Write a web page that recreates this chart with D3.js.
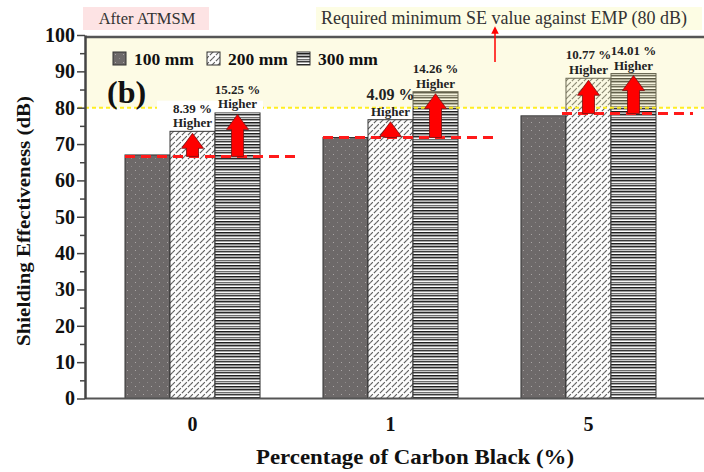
<!DOCTYPE html>
<html>
<head>
<meta charset="utf-8">
<script src="https://cdn.jsdelivr.net/npm/d3@7"></script>
<style>
  body { margin: 0; background: #fff; }
  svg text { font-family: "Liberation Serif", "Times New Roman", serif; }
</style>
</head>
<body>
<div id="chart"></div>
<script>
// values
const categories = ["0", "1", "5"];
const series = ["100 mm", "200 mm", "300 mm"];
const se100 = [67.0, 71.8, 77.8];
const se200 = [73.5, 76.7, 88.1];
const se300 = [78.7, 84.4, 89.4];
const baseline = [66.6, 71.8, 78.4];
const gain200 = ["8.39 %", "4.09 %", "10.77 %"];
const gain300 = ["15.25 %", "14.26 %", "14.01 %"];
const yTicks = d3.range(0, 101, 10);
const yMinor = d3.range(5, 100, 10);
const requiredSE = 80;

const W = 704, H = 472;
const pLeft = 85, pRight = 704, pTop = 37, pBottom = 398.5;

const svg = d3.select("#chart").append("svg")
    .attr("width", W)
    .attr("height", H);

// patterns for the three bar fills
const defs = svg.append("defs");
const p1 = defs.append("pattern").attr("id", "p100")
    .attr("patternUnits", "userSpaceOnUse").attr("width", 8).attr("height", 8);
p1.append("rect").attr("width", 8).attr("height", 8).attr("fill", "#6d6969");
p1.append("rect").attr("x", 2).attr("y", 2).attr("width", 1).attr("height", 1).attr("fill", "#aaa6a6");
p1.append("rect").attr("x", 6).attr("y", 6).attr("width", 1).attr("height", 1).attr("fill", "#8f8b8b");

const p2 = defs.append("pattern").attr("id", "p200")
    .attr("patternUnits", "userSpaceOnUse").attr("width", 6).attr("height", 6);
p2.append("rect").attr("width", 6).attr("height", 6).attr("fill", "#fdfdfd");
p2.append("path").attr("d", "M-1,7 L7,-1 M-1,1 L1,-1 M5,7 L7,5")
    .attr("stroke", "#5a5a5a").attr("stroke-width", 1.1).attr("stroke-dasharray", "4,1.5");

const p3 = defs.append("pattern").attr("id", "p300")
    .attr("patternUnits", "userSpaceOnUse").attr("width", 8).attr("height", 11);
const stripes = ["#ffffff", "#1e1e1e", "#8a8a8a", "#bcbcbc", "#2a2a2a", "#9a9a9a", "#f4f4f4", "#6e6e6e", "#c8c8c8", "#3a3a3a", "#a6a6a6"];
stripes.forEach((c, i) => p3.append("rect").attr("y", i).attr("width", 8).attr("height", 1).attr("fill", c));
const fills = { "100 mm": "url(#p100)", "200 mm": "url(#p200)", "300 mm": "url(#p300)" };

// scales
const y = d3.scaleLinear().domain([0, 100]).range([pBottom, 35]);
const x0 = d3.scaleBand().domain(categories).range([125, 656]).paddingInner(0.318).paddingOuter(0);
const x1 = d3.scaleBand().domain(series).range([0, x0.bandwidth()]);

const rows = categories.map((c, i) => ({
  cat: c,
  vals: [
    { s: "100 mm", v: se100[i] },
    { s: "200 mm", v: se200[i] },
    { s: "300 mm", v: se300[i] }
  ],
  base: baseline[i],
  gains: [null, gain200[i], gain300[i]]
}));

// top annotation boxes
svg.append("rect").attr("x", 83).attr("y", 7).attr("width", 126).attr("height", 23).attr("fill", "#fde3e4");
svg.append("text").attr("x", 147).attr("y", 24).attr("text-anchor", "middle")
    .attr("font-size", 16.5).attr("fill", "#333").text("After ATMSM");
svg.append("rect").attr("x", 316).attr("y", 7).attr("width", 386).attr("height", 23).attr("fill", "#fdfde4");
svg.append("text").attr("x", 504).attr("y", 24).attr("text-anchor", "middle")
    .attr("font-size", 18).attr("fill", "#333").text("Required minimum SE value against EMP (80 dB)");

// bars
const g = svg.append("g");
const groups = g.selectAll("g.grp").data(rows).enter().append("g")
    .attr("class", "grp")
    .attr("transform", d => `translate(${x0(d.cat)},0)`);
groups.selectAll("rect").data(d => d.vals).enter().append("rect")
    .attr("x", d => x1(d.s))
    .attr("y", d => y(d.v))
    .attr("width", x1.bandwidth())
    .attr("height", d => y(0) - y(d.v))
    .attr("fill", d => fills[d.s])
    .attr("stroke", "#333")
    .attr("stroke-width", 1);

// yellow region above the required value, laid over the bars
svg.append("rect")
    .attr("x", pLeft).attr("y", pTop)
    .attr("width", pRight - pLeft).attr("height", y(requiredSE) - pTop)
    .attr("fill", "#f7f0a0").attr("opacity", 0.28);
svg.append("line")
    .attr("x1", 78).attr("x2", pRight)
    .attr("y1", y(requiredSE)).attr("y2", y(requiredSE))
    .attr("stroke", "#ffee22").attr("stroke-width", 2).attr("stroke-dasharray", "4,3");

// white backing behind the first group's labels
svg.append("rect")
    .attr("x", x0("0") + x1("200 mm") - 13)
    .attr("y", 100.7)
    .attr("width", x1.bandwidth() * 2 + 16)
    .attr("height", y(se300[0]) - 100.7)
    .attr("fill", "#fff");
// white cap above the last 100 mm bar
svg.append("rect")
    .attr("x", x0("5") - 4)
    .attr("y", y(se100[2]) - 5)
    .attr("width", x1.bandwidth() + 4)
    .attr("height", 4.5)
    .attr("fill", "#fff");

// reference dashed lines (100 mm level)
const dashStart = [0, 0, 1];
svg.selectAll("line.base").data(rows).enter().append("line")
    .attr("class", "base")
    .attr("x1", (d, i) => x0(d.cat) + x1(series[dashStart[i]]) - (dashStart[i] ? 4 : 0))
    .attr("x2", d => x0(d.cat) + x0.bandwidth() + 37)
    .attr("y1", d => y(d.base)).attr("y2", d => y(d.base))
    .attr("stroke", "#ff1a1a").attr("stroke-width", 3).attr("stroke-dasharray", "10,6");

// arrows and labels
const marks = [];
rows.forEach(r => {
  r.vals.forEach((d, j) => {
    if (!r.gains[j]) return;
    marks.push({ cx: x0(r.cat) + x1(d.s) + x1.bandwidth() / 2, v: d.v, base: r.base, label: r.gains[j] });
  });
});
function arrowPath(d) {
  const yb = y(d.base), yt = y(d.v) + 2, hw = 11, sw = 6, hl = 15;
  return `M${d.cx - sw},${yb} L${d.cx - sw},${yt + hl} L${d.cx - hw},${yt + hl} L${d.cx},${yt} ` +
         `L${d.cx + hw},${yt + hl} L${d.cx + sw},${yt + hl} L${d.cx + sw},${yb} Z`;
}
svg.selectAll("path.arrow").data(marks).enter().append("path")
    .attr("class", "arrow")
    .attr("d", arrowPath)
    .attr("fill", "#ff0000").attr("stroke", "#7a1010").attr("stroke-width", 0.8);

const big = d => d.label === "4.09 %";
svg.selectAll("text.pct").data(marks).enter().append("text")
    .attr("class", "pct")
    .attr("x", d => d.cx).attr("y", d => y(d.v) - (big(d) ? 20 : 18.8))
    .attr("text-anchor", "middle").attr("font-weight", "bold")
    .attr("font-size", d => big(d) ? 16 : 13).attr("fill", "#222")
    .text(d => d.label);
svg.selectAll("text.hi").data(marks).enter().append("text")
    .attr("class", "hi")
    .attr("x", d => d.cx).attr("y", d => y(d.v) - 4)
    .attr("text-anchor", "middle").attr("font-weight", "bold")
    .attr("font-size", 13).attr("fill", "#222")
    .text("Higher");

// frame: top border and x axis line
svg.append("line").attr("x1", pLeft).attr("x2", pRight).attr("y1", pTop).attr("y2", pTop)
    .attr("stroke", "#555").attr("stroke-width", 2.5);
svg.append("line").attr("x1", pLeft).attr("x2", pRight).attr("y1", pBottom).attr("y2", pBottom)
    .attr("stroke", "#555").attr("stroke-width", 2);

// y axis
const yAxis = svg.append("g").attr("transform", `translate(${pLeft},0)`)
    .call(d3.axisLeft(y).tickValues(yTicks).tickSize(8).tickSizeOuter(0).tickPadding(2));
svg.append("g").attr("transform", `translate(${pLeft},0)`)
    .call(d3.axisLeft(y).tickValues(yMinor).tickSize(5).tickFormat(""))
    .call(a => a.select(".domain").remove())
    .selectAll("line").attr("stroke", "#444").attr("stroke-width", 1.5);
yAxis.select(".domain").attr("stroke", "#444").attr("stroke-width", 2.5);
yAxis.selectAll(".tick line").attr("stroke", "#444").attr("stroke-width", 1.5);
yAxis.selectAll(".tick text")
    .attr("font-size", 20).attr("font-weight", "bold").attr("fill", "#111");

// x axis labels
const xAxis = svg.append("g").attr("transform", `translate(0,${pBottom})`)
    .call(d3.axisBottom(x0).tickSize(0).tickPadding(18));
xAxis.select(".domain").remove();
xAxis.selectAll(".tick text")
    .attr("font-size", 20).attr("font-weight", "bold").attr("fill", "#111");

// axis titles
svg.append("text")
    .attr("transform", "translate(30,221) rotate(-90)")
    .attr("text-anchor", "middle").attr("font-size", 19).attr("font-weight", "bold").attr("fill", "#111")
    .attr("textLength", 250).attr("lengthAdjust", "spacingAndGlyphs")
    .text("Shielding Effectiveness (dB)");
svg.append("text")
    .attr("x", 415).attr("y", 464)
    .attr("text-anchor", "middle").attr("font-size", 21).attr("font-weight", "bold").attr("fill", "#111")
    .attr("textLength", 318).attr("lengthAdjust", "spacingAndGlyphs")
    .text("Percentage of Carbon Black (%)");

// legend
const legX = [113, 207, 297];
const leg = svg.selectAll("g.leg").data(series).enter().append("g")
    .attr("class", "leg")
    .attr("transform", (d, i) => `translate(${legX[i]},52)`);
leg.append("rect").attr("width", 13).attr("height", 13)
    .attr("fill", d => fills[d]).attr("stroke", "#333").attr("stroke-width", 1);
leg.append("text").attr("x", 21).attr("y", 13)
    .attr("font-size", 17.5).attr("font-weight", "bold").attr("fill", "#111")
    .text(d => d);

// panel tag
svg.append("text").attr("x", 107).attr("y", 103)
    .attr("font-size", 32).attr("font-weight", "bold").attr("fill", "#111").text("(b)");

// thin red pointer to the required-value line note
svg.append("defs").append("marker").attr("id", "tip")
    .attr("viewBox", "0 0 10 10").attr("refX", 5).attr("refY", 5)
    .attr("markerWidth", 5).attr("markerHeight", 5).attr("orient", "auto")
    .append("path").attr("d", "M0,0 L10,5 L0,10 Z").attr("fill", "#ff0000");
svg.append("line").attr("x1", 495).attr("x2", 495).attr("y1", 62).attr("y2", 30)
    .attr("stroke", "#ff0000").attr("stroke-width", 1.5).attr("marker-end", "url(#tip)");
</script>
</body>
</html>
